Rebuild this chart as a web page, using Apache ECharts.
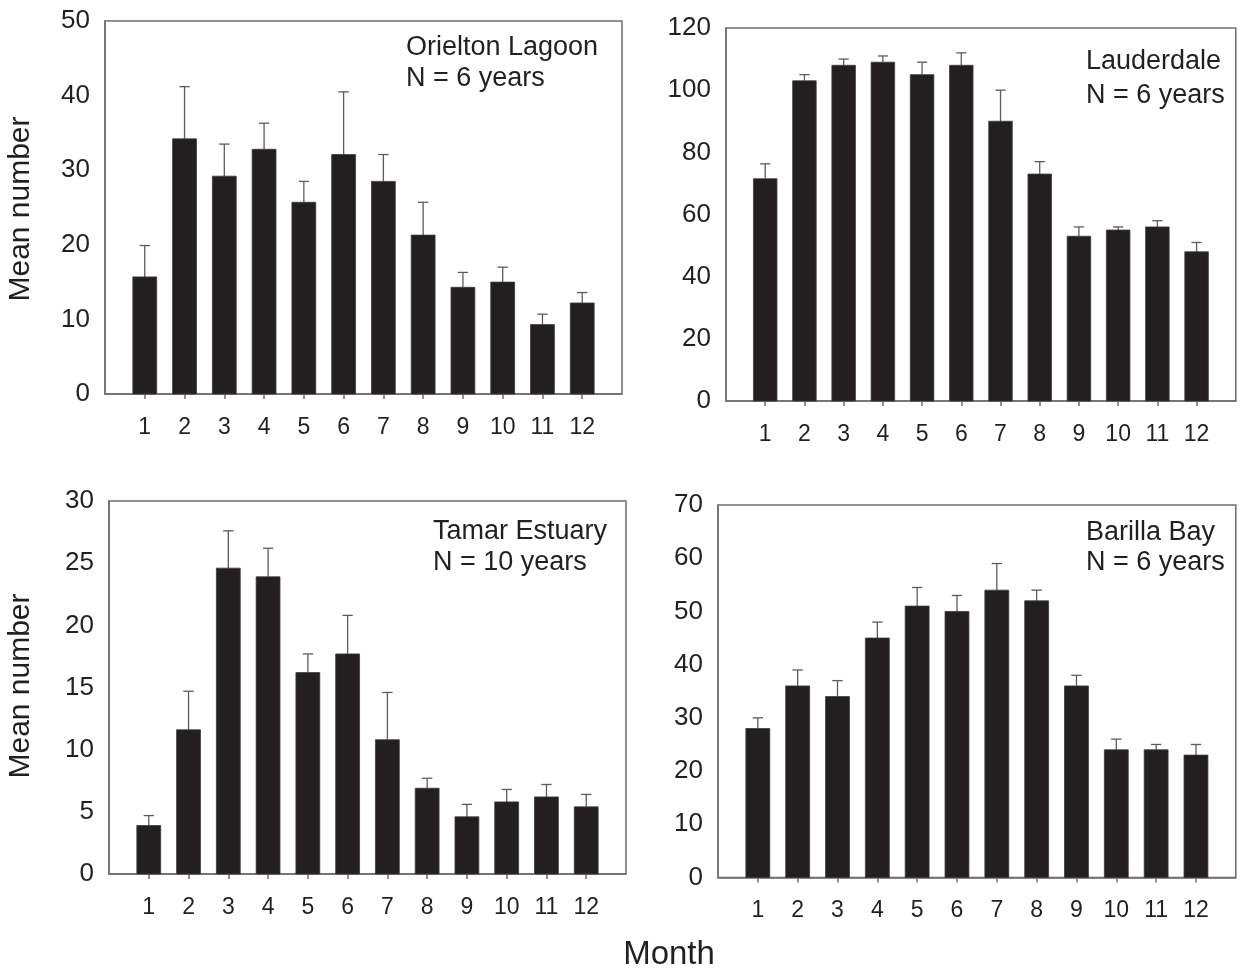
<!DOCTYPE html>
<html>
<head>
<meta charset="utf-8">
<script src="https://cdn.jsdelivr.net/npm/echarts@6/dist/echarts.min.js"></script>
<style>
  html, body { margin: 0; padding: 0; background: #ffffff; }
  #chart { width: 1242px; height: 968px; }
</style>
</head>
<body>
<div id="chart"></div>
<script>
// ---- Data ----
const months = ['1','2','3','4','5','6','7','8','9','10','11','12'];

const orieltonMean = [15.7, 34.2, 29.2, 32.8, 25.7, 32.1, 28.5, 21.3, 14.3, 15.0, 9.3, 12.2];
const orieltonSE   = [4.2, 7.0, 4.3, 3.5, 2.8, 8.4, 3.6, 4.4, 2.0, 2.0, 1.4, 1.4];

const lauderdaleMean = [71.5, 103, 108, 109, 105, 108, 90, 73, 53, 55, 56, 48];
const lauderdaleSE   = [4.8, 2, 2, 2, 4, 4, 10, 4, 3, 1, 2, 3];

const tamarMean = [3.9, 11.6, 24.6, 23.9, 16.2, 17.7, 10.8, 6.9, 4.6, 5.8, 6.2, 5.4];
const tamarSE   = [0.8, 3.1, 3.0, 2.3, 1.5, 3.1, 3.8, 0.8, 1.0, 1.0, 1.0, 1.0];

const barillaMean = [28, 36, 34, 45, 51, 50, 54, 52, 36, 24, 24, 23];
const barillaSE   = [2, 3, 3, 3, 3.5, 3, 5, 2, 2, 2, 1, 2];

const yMax      = [50, 120, 30, 70];
const yInterval = [10, 20, 5, 10];

const siteNames = ['Orielton Lagoon', 'Lauderdale', 'Tamar Estuary', 'Barilla Bay'];
const siteN     = ['N = 6 years', 'N = 6 years', 'N = 10 years', 'N = 6 years'];
const yTitle = 'Mean number';
const xTitle = 'Month';

// ---- Build ----
const FONT = "'Liberation Sans', Arial, Helvetica, sans-serif";
const TXT = '#231f20';
const AX = '#6e6e6e';
const BAR = '#231f20';

const means = [orieltonMean, lauderdaleMean, tamarMean, barillaMean];
const ses = [orieltonSE, lauderdaleSE, tamarSE, barillaSE];

const grids = [
  { left: 105, top: 21, width: 517, height: 373 },
  { left: 726, top: 28, width: 518, height: 373 },
  { left: 109, top: 501, width: 517, height: 373 },
  { left: 718, top: 505, width: 519, height: 372.5 }
].map(g => Object.assign(g, { show: true, borderColor: AX, borderWidth: 1.5, backgroundColor: 'transparent', containLabel: false }));

const axisCats = ['', ...months, ' '];

const xAxes = grids.map((g, i) => ({
  type: 'category', gridIndex: i, data: axisCats, boundaryGap: false,
  axisLine: { show: true, lineStyle: { color: AX, width: 1.5 } },
  axisTick: { show: true, length: 5, interval: (idx, v) => v !== '' && v !== ' ', lineStyle: { color: AX, width: 1.5 } },
  axisLabel: { interval: 0, margin: 22, fontSize: 23, fontFamily: FONT, color: TXT },
  splitLine: { show: false }
}));

const yAxes = grids.map((g, i) => ({
  type: 'value', gridIndex: i, min: 0, max: yMax[i], interval: yInterval[i],
  axisLine: { show: true, lineStyle: { color: AX, width: 1.5 } },
  axisTick: { show: false },
  axisLabel: { margin: 15, fontSize: 26, fontFamily: FONT, color: TXT },
  splitLine: { show: false }
}));

function renderItem(params, api) {
  const idx = api.value(0);
  const m = api.value(1);
  const up = m + api.value(2);
  const base = api.coord([idx, 0]);
  const top = api.coord([idx, m]);
  const err = api.coord([idx, up]);
  const bw = api.size([1, 0])[0] * 0.6;
  const cap = api.size([1, 0])[0] * 0.26;
  return {
    type: 'group',
    children: [
      { type: 'line', shape: { x1: top[0], y1: top[1], x2: err[0], y2: err[1] }, style: { stroke: '#5c5c5c', lineWidth: 1.3 } },
      { type: 'line', shape: { x1: err[0] - cap / 2, y1: err[1], x2: err[0] + cap / 2, y2: err[1] }, style: { stroke: '#5c5c5c', lineWidth: 1.3 } },
      { type: 'rect', shape: { x: base[0] - bw / 2, y: top[1], width: bw, height: base[1] - top[1] }, style: { fill: BAR, stroke: '#3a3a3a', lineWidth: 0.8 } }
    ]
  };
}

const series = grids.map((g, i) => ({
  type: 'custom', xAxisIndex: i, yAxisIndex: i,
  renderItem: renderItem,
  encode: { x: 0, y: 1 },
  data: months.map((mo, k) => [mo, means[i][k], ses[i][k]]),
  clip: false
}));

const annoPos = [
  { x: 406, y1: 48, y2: 79 },
  { x: 1086, y1: 62, y2: 96 },
  { x: 433, y1: 532, y2: 563 },
  { x: 1086, y1: 533, y2: 563 }
];

const graphics = [];
annoPos.forEach((p, i) => {
  graphics.push({ type: 'text', x: p.x, y: p.y1, style: { text: siteNames[i], font: '27px ' + FONT, fill: TXT, textAlign: 'left', textVerticalAlign: 'middle' } });
  graphics.push({ type: 'text', x: p.x, y: p.y2, style: { text: siteN[i], font: '27px ' + FONT, fill: TXT, textAlign: 'left', textVerticalAlign: 'middle' } });
});
[209, 686].forEach(cy => {
  graphics.push({ type: 'text', x: 21, y: cy, rotation: Math.PI / 2, style: { text: yTitle, font: '30px ' + FONT, fill: TXT, textAlign: 'center', textVerticalAlign: 'middle' } });
});
graphics.push({ type: 'text', x: 669, y: 955, style: { text: xTitle, font: '33px ' + FONT, fill: TXT, textAlign: 'center', textVerticalAlign: 'middle' } });

const chart = echarts.init(document.getElementById('chart'), null, { renderer: 'canvas' });
chart.setOption({
  animation: false,
  backgroundColor: '#ffffff',
  grid: grids,
  xAxis: xAxes,
  yAxis: yAxes,
  series: series,
  graphic: graphics
});
</script>
</body>
</html>
